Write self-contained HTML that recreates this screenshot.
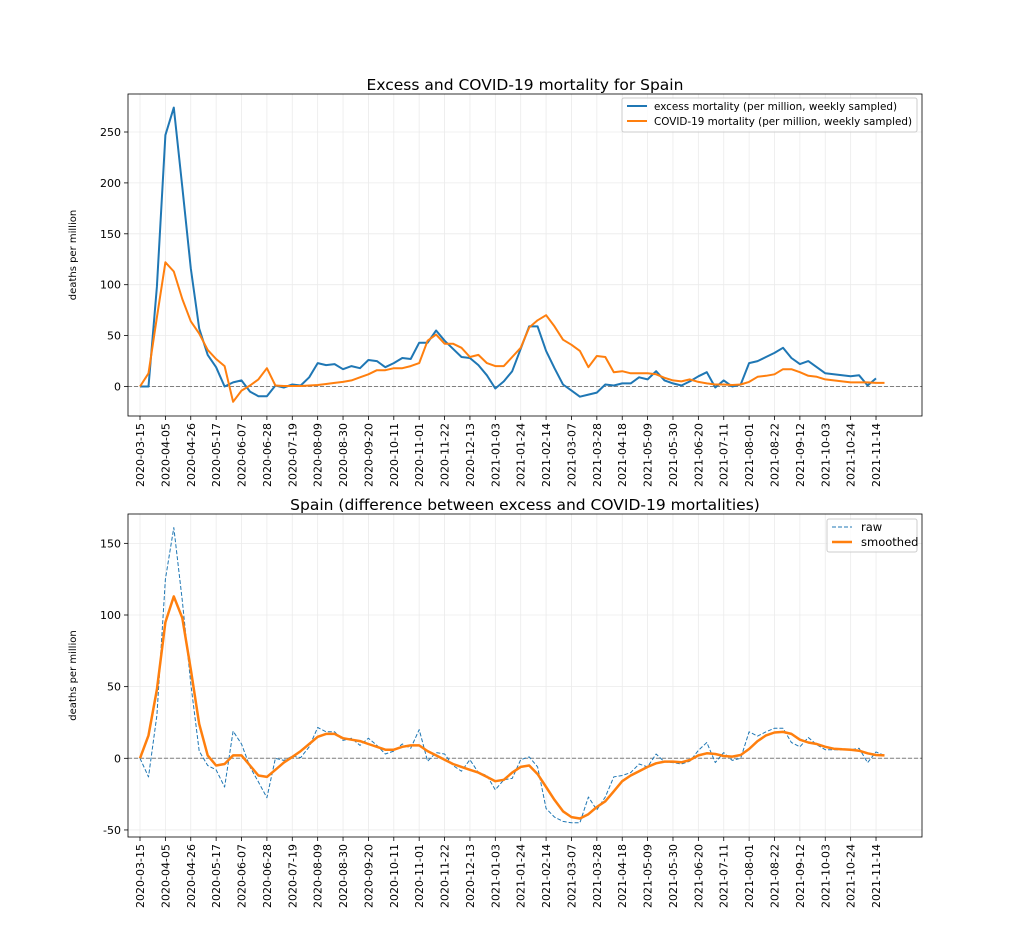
<!DOCTYPE html>
<html><head><meta charset="utf-8"><style>
html,body{margin:0;padding:0;background:#fff;}
svg{display:block;font-family:"DejaVu Sans","Liberation Sans",sans-serif;}
</style></head><body>
<svg id="s" width="1024" height="931" xmlns="http://www.w3.org/2000/svg"></svg>
<script>
const E=[0,0,98,247,274,196,116,57,31,19,0,4,6,-5,-9.5,-9.5,1,-1,2,1,9,23,21,22,17,20,18,26,25,19,23,28,27,43,43,55,45,37,29,28,21,11,-2,5,15,37,59,59,35,18,2,-4,-10,-8,-6,2,1,3,3,9,7,15,6,3,1,5,10,14,-1,6,0,2,23,25,29,33,38,28,22,25,19,13,12,11,10,11,1,8];
const C=[0,13,68,122,113,86,64,52,36,27,20,-15,-4,1,7,18,1,0.5,0.5,0.5,1,1.5,2.5,3.5,4.5,6,9,12,16,16,18,18,20,23,45,51,42,42,38,29,31,23,20,20,29,38,58,65,70,59,46,41,35,19,30,29,14,15,13,13,13,12,8.5,6,5,7,4.5,3,2,2,1.5,2,4.5,9.5,10.5,12,17,17,14,10.5,9.5,7,6,5,4,4,4,3.5,3.5];
const S=[0,16,48,95,113,98,62,24,2,-5,-4,2,2,-5,-12,-13,-8,-3,1,5,10,15,17,17,14,13,12,10,8,6,6,8,9,9,5,2,-1,-4,-6,-8,-10,-13,-16,-15,-10,-6,-5,-11,-20,-29,-37,-41,-42,-39,-34,-30,-23,-16,-12,-9,-6,-3.5,-2.3,-2.3,-2.8,-1.2,2,3.5,3,1.6,1.2,2.3,6.5,12,16,18,18.4,17,13,11,10,8,6.7,6.3,6,5.3,3.5,2.3,2];
const R=E.map((v,i)=>v-C[i]);R.push(2);
const labels=["2020-03-15","2020-04-05","2020-04-26","2020-05-17","2020-06-07","2020-06-28","2020-07-19","2020-08-09","2020-08-30","2020-09-20","2020-10-11","2020-11-01","2020-11-22","2020-12-13","2021-01-03","2021-01-24","2021-02-14","2021-03-07","2021-03-28","2021-04-18","2021-05-09","2021-05-30","2021-06-20","2021-07-11","2021-08-01","2021-08-22","2021-09-12","2021-10-03","2021-10-24","2021-11-14"];
const X=i=>140+i*8.46;
let h='';
function axes(top,bot,y0,k,ticks,title,ytitle){
  const Y=v=>y0-v*k;
  h+=`<rect x="128" y="${top}" width="794" height="${bot-top}" fill="#fff"/>`;
  labels.forEach((l,j)=>{const x=X(j*3);
    h+=`<line x1="${x}" y1="${top}" x2="${x}" y2="${bot}" stroke="#ebebeb" stroke-width="0.8"/>`;
    h+=`<line x1="${x}" y1="${bot}" x2="${x}" y2="${bot+4}" stroke="#000" stroke-width="0.8"/>`;
    h+=`<text transform="translate(${x+4},${bot+7}) rotate(-90)" text-anchor="end" font-size="11" fill="#000">${l}</text>`;});
  ticks.forEach(v=>{const y=Y(v);
    h+=`<line x1="128" y1="${y}" x2="922" y2="${y}" stroke="#ebebeb" stroke-width="0.8"/>`;
    h+=`<line x1="124" y1="${y}" x2="128" y2="${y}" stroke="#000" stroke-width="0.8"/>`;
    h+=`<text x="121" y="${y+4}" text-anchor="end" font-size="11" fill="#000">${v}</text>`;});
  h+=`<line x1="128" y1="${y0}" x2="922" y2="${y0}" stroke="#808080" stroke-width="1" stroke-dasharray="4,2"/>`;
  h+=`<text x="525" y="${top-4}" text-anchor="middle" font-size="15.5" fill="#000">${title}</text>`;
  h+=`<text transform="translate(76,${(top+bot)/2}) rotate(-90)" text-anchor="middle" font-size="10" fill="#000">${ytitle}</text>`;
  return Y;
}
function line(arr,Y,col,w,dash){
  h+=`<polyline fill="none" stroke="${col}" stroke-width="${w}" ${dash?'stroke-dasharray="'+dash+'"':''} stroke-linejoin="round" points="${arr.map((v,i)=>X(i).toFixed(1)+','+Y(v).toFixed(1)).join(' ')}"/>`;
}
let Y1=axes(94,416,386.5,1.018,[0,50,100,150,200,250],"Excess and COVID-19 mortality for Spain","deaths per million");
line(E,Y1,"#1f77b4",2);line(C,Y1,"#ff7f0e",2);
h+=`<rect x="128" y="94" width="794" height="322" fill="none" stroke="#000" stroke-width="0.8"/>`;
h+=`<rect x="622" y="98" width="295" height="34" rx="2" fill="#fff" fill-opacity="0.8" stroke="#ccc"/>
<line x1="627" y1="106" x2="647" y2="106" stroke="#1f77b4" stroke-width="2"/><text x="654" y="110" font-size="11" textLength="243" lengthAdjust="spacingAndGlyphs">excess mortality (per million, weekly sampled)</text>
<line x1="627" y1="121" x2="647" y2="121" stroke="#ff7f0e" stroke-width="2"/><text x="654" y="125" font-size="11" textLength="258" lengthAdjust="spacingAndGlyphs">COVID-19 mortality (per million, weekly sampled)</text>`;
let Y2=axes(514,837,758.3,1.433,[-50,0,50,100,150],"Spain (difference between excess and COVID-19 mortalities)","deaths per million");
line(R,Y2,"#1f77b4",1,"4,2");line(S,Y2,"#ff7f0e",2.5);
h+=`<rect x="128" y="514" width="794" height="323" fill="none" stroke="#000" stroke-width="0.8"/>`;
h+=`<rect x="827" y="519" width="90" height="33" rx="2" fill="#fff" fill-opacity="0.8" stroke="#ccc"/>
<line x1="832" y1="527" x2="852" y2="527" stroke="#1f77b4" stroke-width="1" stroke-dasharray="4,2"/><text x="861" y="531" font-size="11.5">raw</text>
<line x1="832" y1="542" x2="852" y2="542" stroke="#ff7f0e" stroke-width="2.5"/><text x="861" y="546" font-size="11.5">smoothed</text>`;
document.getElementById('s').innerHTML=h;
</script>
</body></html>
